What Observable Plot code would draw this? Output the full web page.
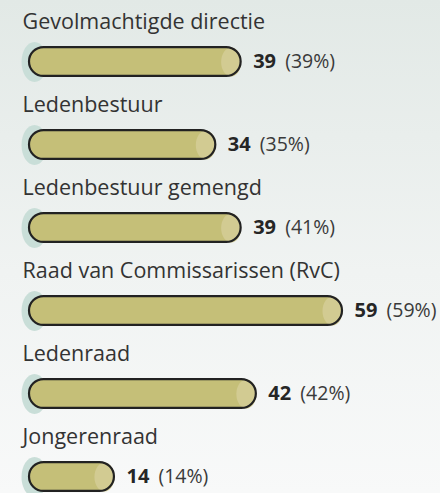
<!DOCTYPE html>
<html>
<head>
<meta charset="utf-8">
<script src="https://cdn.jsdelivr.net/npm/d3@7"></script>
<script src="https://cdn.jsdelivr.net/npm/@observablehq/plot@0.6"></script>
<style>
  html, body { margin: 0; padding: 0; }
  body { width: 440px; height: 493px; background: linear-gradient(to bottom, #e2e9e6 0%, #f0f3f2 55%, #f8f9f9 100%); overflow: hidden; }
  svg { display: block; }
</style>
</head>
<body>
<div id="chart"></div>
<script>
const categories = [
  "Gevolmachtigde directie",
  "Ledenbestuur",
  "Ledenbestuur gemengd",
  "Raad van Commissarissen (RvC)",
  "Ledenraad",
  "Jongerenraad"
];
const counts = [39, 34, 39, 59, 42, 14];
const percents = [39, 35, 41, 59, 42, 14];

const data = categories.map((c, i) => ({category: c, count: counts[i], pct: percents[i]}));

function ellipse(rx, ry) {
  const k = 0.5523;
  return {
    draw(ctx) {
      ctx.moveTo(-rx, 0);
      ctx.bezierCurveTo(-rx, -ry * k, -rx * k, -ry, 0, -ry);
      ctx.bezierCurveTo(rx * k, -ry, rx, -ry * k, rx, 0);
      ctx.bezierCurveTo(rx, ry * k, rx * k, ry, 0, ry);
      ctx.bezierCurveTo(-rx * k, ry, -rx, ry * k, -rx, 0);
      ctx.closePath();
    }
  };
}

const font = "'Open Sans', sans-serif";
const inset = 27.1;

const chart = Plot.plot({
  width: 440,
  height: 493,
  marginLeft: 44,
  marginRight: 97,
  marginTop: 0,
  marginBottom: 0,
  style: {background: "transparent", fontFamily: font},
  x: {domain: [0, 59], range: [44, 343], axis: null},
  y: {domain: categories, range: [18.9, 518.1], padding: 0, axis: null},
  marks: [
    // halo behind left end
    Plot.dot(data, {x: () => 0, y: "category", dx: -10, symbol: ellipse(13, 20), fill: "#c9ded8", stroke: "none"}),
    // bar body
    Plot.barX(data, {x1: () => 0, x2: "count", y: "category", insetTop: inset, insetBottom: inset, insetLeft: -15, insetRight: 1, rx: 14.5, fill: "#c5bf78"}),
    // highlight at right end
    Plot.dot(data, {x: "count", y: "category", dx: -11, symbol: ellipse(10, 14.5), fill: "#d2cb92", stroke: "none"}),
    // outline
    Plot.barX(data, {x1: () => 0, x2: "count", y: "category", insetTop: inset, insetBottom: inset, insetLeft: -15, insetRight: 1, rx: 14.5, fill: "none", stroke: "#222", strokeWidth: 2.2}),
    // category labels
    Plot.text(data, {x: () => 0, y: "category", text: "category", dx: -22, dy: -33.5, textAnchor: "start", lineAnchor: "bottom", fontSize: 21.5, fill: "#333"}),
    // count (bold)
    Plot.text(data, {x: "count", y: "category", text: d => String(d.count), dx: 11, textAnchor: "start", lineAnchor: "middle", fontSize: 20, fontWeight: "bold", fill: "#262626"}),
    // percent
    Plot.text(data, {x: "count", y: "category", text: d => `(${d.pct}%)`, dx: 43, textAnchor: "start", lineAnchor: "middle", fontSize: 19.5, fill: "#3a3a3a"})
  ]
});
document.getElementById("chart").appendChild(chart);
</script>
</body>
</html>
